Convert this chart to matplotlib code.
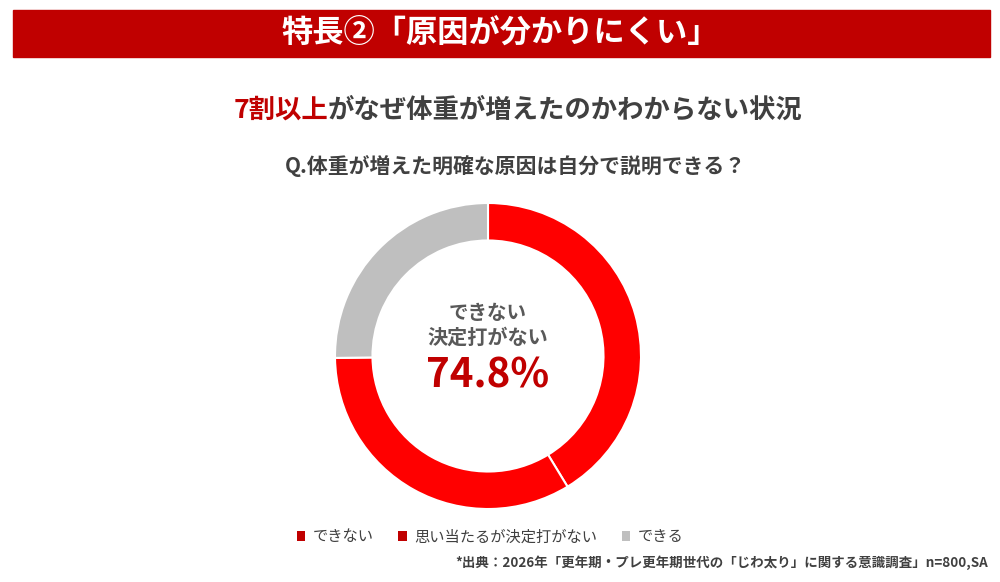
import matplotlib.pyplot as plt
from matplotlib.patches import Patch, Rectangle

plt.rcParams['font.family'] = ['Noto Sans CJK JP', 'DejaVu Sans']

# data
labels = ['できない', '思い当たるが決定打がない', 'できる']
values = [41.3, 33.5, 25.2]
slice_colors = ['#FF0000', '#FF0000', '#BFBFBF']
legend_colors = ['#C00000', '#C00000', '#BFBFBF']
total_label = '74.8%'
head_red = '7割以上'
head_rest = 'がなぜ体重が増えたのかわからない状況'

fig = plt.figure(figsize=(10, 5.82), dpi=100)
fig.patch.set_facecolor('white')
renderer = fig.canvas.get_renderer()

# banner
fig.patches.append(Rectangle((0.013, 1 - 57/582), 0.977, 47/582,
                             transform=fig.transFigure, color='#C00000', zorder=0))
fig.text(0.5, 1 - 33/582, '特長②「原因が分かりにくい」', color='white',
         fontsize=22.5, fontweight='bold', ha='center', va='center')

# headline: two colours, centred as one line
y_head = 1 - 110/582
t1 = fig.text(0, y_head, head_red, color='#C00000', fontsize=19,
              fontweight='bold', ha='left', va='center')
t2 = fig.text(0, y_head, head_rest, color='#404040', fontsize=19,
              fontweight='bold', ha='left', va='center')
w1 = t1.get_window_extent(renderer).width / fig.bbox.width
w2 = t2.get_window_extent(renderer).width / fig.bbox.width
x0 = 0.518 - (w1 + w2) / 2
t1.set_x(x0)
t2.set_x(x0 + w1)

fig.text(0.516, 1 - 166/582, 'Q.体重が増えた明確な原因は自分で説明できる？', color='#404040',
         fontsize=15, fontweight='bold', ha='center', va='center')

# donut
ax = fig.add_axes([0.488 - 0.153, 1 - 356/582 - 153/582, 0.306, 306/582])
ax.pie(values, colors=slice_colors, startangle=90, counterclock=False,
       wedgeprops=dict(width=0.245, edgecolor='white', linewidth=1.5))
ax.set_xlim(-1.0, 1.0)
ax.set_ylim(-1.0, 1.0)
ax.text(0, 0.28, 'できない', color='#595959', fontsize=14, fontweight='bold',
        ha='center', va='center')
ax.text(0, 0.12, '決定打がない', color='#595959', fontsize=14.5, fontweight='bold',
        ha='center', va='center')
ax.text(0, -0.13, total_label, color='#C00000', fontsize=29, fontweight='bold',
        ha='center', va='center')

# legend
handles = [Patch(facecolor=c, edgecolor='none') for c in legend_colors]
fig.legend(handles, labels, loc='center', bbox_to_anchor=(0.49, 1 - 537/582),
           ncol=3, frameon=False, fontsize=11, handlelength=0.55, handleheight=0.55,
           handletextpad=0.5, columnspacing=1.6, labelcolor='#404040')

fig.text(0.988, 1 - 563/582, '*出典：2026年「更年期・プレ更年期世代の「じわ太り」に関する意識調査」n=800,SA',
         color='#404040', fontsize=9.7, fontweight='bold', ha='right', va='center')

plt.savefig('out.png', dpi=100)
